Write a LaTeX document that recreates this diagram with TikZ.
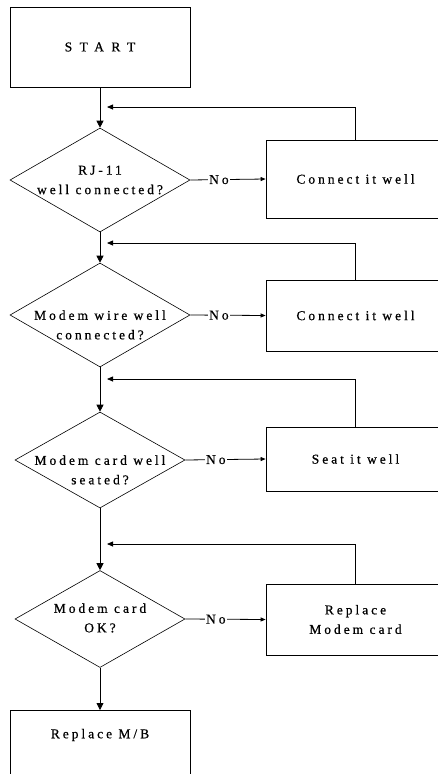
\documentclass[tikz,border=0pt]{standalone}
\usepackage{fontspec}
\setmainfont{Liberation Serif}[LetterSpace=22,FakeBold=0.6]
\usetikzlibrary{arrows.meta,shapes.geometric}
\begin{document}
\begin{tikzpicture}[x=1pt,y=-1pt,
  txt/.style={font=\fontsize{13.5}{19.5}\selectfont,align=center,inner sep=0pt},
  box/.style={draw,line width=0.8pt,inner sep=0pt,txt},
  dia/.style={draw,line width=0.6pt,diamond,inner sep=0pt},
  arr/.style={line width=0.8pt,-{Triangle[length=7pt,width=7pt]}},
  farr/.style={line width=0.8pt,-{Triangle[length=6pt,width=5pt]}},
  narr/.style={line width=0.8pt,-{Triangle[length=5pt,width=4pt]}},
  nolab/.style={txt,fill=white,inner sep=1pt}]
\useasboundingbox (0,0) rectangle (437,774);
% main column
\node[box,minimum width=180pt,minimum height=80pt] (start) at (100,47) {\addfontfeature{LetterSpace=55}START};
\node[dia,minimum width=180pt,minimum height=104pt] (d1) at (100,180) {};
\node[txt] (d1t) at (100,180) {RJ-11\\well connected?};
\node[dia,minimum width=180pt,minimum height=104pt] (d2) at (100,315) {};
\node[txt] (d2t) at (100,325) {Modem wire well\\connected?};
\node[dia,minimum width=170pt,minimum height=96pt] (d3) at (100,460) {};
\node[txt] (d3t) at (100,470) {Modem card well\\seated?};
\node[dia,minimum width=170pt,minimum height=97pt] (d4) at (100,619) {};
\node[txt] (d4t) at (100,618) {Modem card\\OK?};
\node[box,minimum width=180pt,minimum height=90pt,anchor=north] (mb) at (100,710) {};
\node[txt] (mbt) at (100,735) {Replace M/B};
% right column
\node[box,minimum width=179pt,minimum height=78pt] (b1) at (355.5,179) {Connect it well};
\node[box,minimum width=179pt,minimum height=71pt] (b2) at (355.5,315.5) {Connect it well};
\node[box,minimum width=179pt,minimum height=64pt] (b3) at (355.5,459) {Seat it well};
\node[box,minimum width=179pt,minimum height=71pt] (b4) at (355.5,619.5) {Replace\\Modem card};
% feedback ends
\coordinate (f1) at (107,107);
\coordinate (f2) at (107,243);
\coordinate (f3) at (107,379);
\coordinate (f4) at (107,544);
% connectors
\draw[arr] (start) -- (d1);
\draw[arr] (d1) -- (d2);
\draw[arr] (d2) -- (d3);
\draw[arr] (d3) -- (d4);
\draw[arr] (d4) -- (mb);
\draw[narr] (d1.east) -- node[nolab,pos=0.38] {No} (b1.west);
\draw[narr] (d2.east) -- node[nolab,pos=0.38] {No} (b2.west);
\draw[narr] (d3.east) -- node[nolab,pos=0.38] {No} (b3.west);
\draw[narr] (d4.east) -- node[nolab,pos=0.38] {No} (b4.west);
\draw[farr] (b1.north) |- (f1);
\draw[farr] (b2.north) |- (f2);
\draw[farr] (b3.north) |- (f3);
\draw[farr] (b4.north) |- (f4);
\end{tikzpicture}
\end{document}
